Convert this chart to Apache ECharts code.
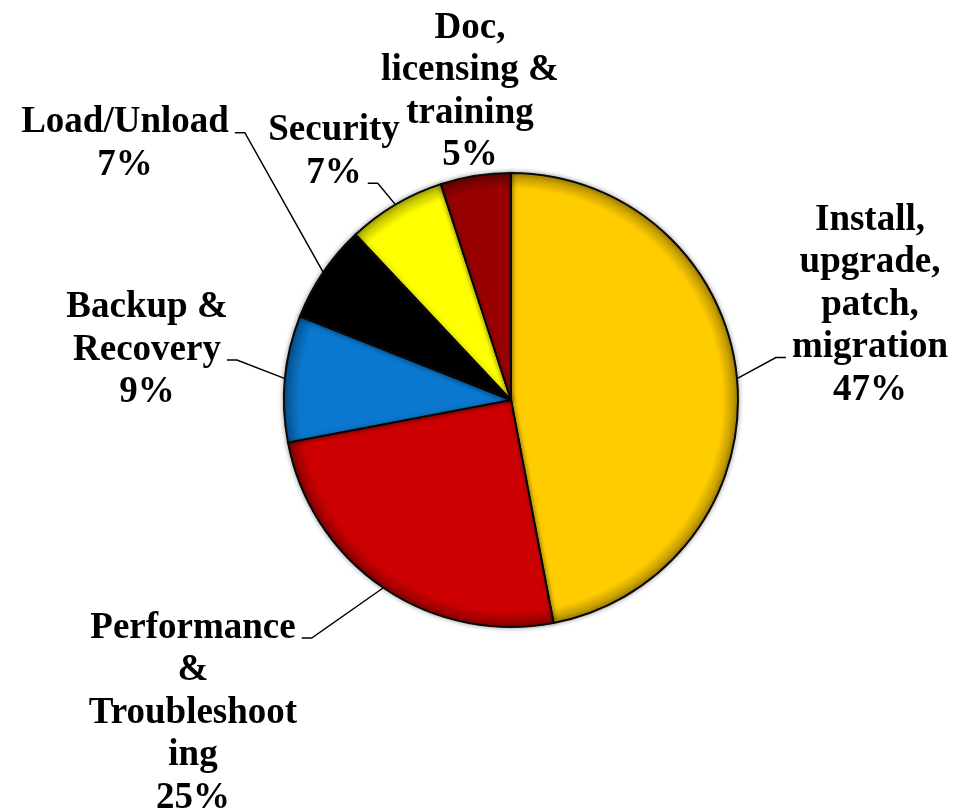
<!DOCTYPE html>
<html><head><meta charset="utf-8">
<script src="https://cdn.jsdelivr.net/npm/echarts@6/dist/echarts.min.js"></script>
<style>html,body{margin:0;padding:0;background:#fff}#chart{width:953px;height:810px}</style>
</head><body><div id="chart"></div>
<script>
// ---- data ----
const categories = [
  'Install,\nupgrade,\npatch,\nmigration',
  'Performance\n&\nTroubleshoot\ning',
  'Backup &\nRecovery',
  'Load/Unload',
  'Security',
  'Doc,\nlicensing &\ntraining'
];
const values = [47, 25, 9, 7, 7, 5];
const colors = ['#FFCC00', '#CC0000', '#0B78CF', '#000000', '#FFFF00', '#990000'];

// ---- layout (label block centres and the text line that each leader line attaches to) ----
const labelCenters = [[870, 305], [193, 713], [147, 350], [125, 144], [334, 152], [470, 92]];
const leaderLine = [3, 0, 1, 0, 1, -1];

const FS = 37, LH = 42.5;
const FONT = 'bold ' + FS + 'px "Liberation Serif"';
const mctx = document.createElement('canvas').getContext('2d');
mctx.font = FONT;

const CX = 511, CY = 400, R = 227;

const chart = echarts.init(document.getElementById('chart'), null, {renderer: 'canvas'});

const data = categories.map((n, i) => ({
  name: n,
  value: values[i],
  itemStyle: {color: colors[i]},
  labelLine: {show: leaderLine[i] >= 0}
}));

const rimShade = {
  type: 'radial', x: CX, y: CY, r: R, global: true,
  colorStops: [
    {offset: 0, color: 'rgba(0,0,0,0)'},
    {offset: 0.93, color: 'rgba(0,0,0,0)'},
    {offset: 1, color: 'rgba(0,0,0,0.32)'}
  ]
};

chart.setOption({
  animation: false,
  backgroundColor: '#ffffff',
  series: [{
    type: 'pie',
    center: [CX, CY],
    radius: R,
    startAngle: 90,
    clockwise: true,
    avoidLabelOverlap: false,
    percentPrecision: 0,
    data: data,
    itemStyle: {
      borderColor: '#151515',
      borderWidth: 2,
      shadowBlur: 5,
      shadowColor: 'rgba(0,0,0,0.35)'
    },
    label: {
      show: true,
      position: 'outside',
      formatter: '{b}\n{d}%',
      color: '#000',
      fontFamily: 'Liberation Serif',
      fontWeight: 'bold',
      fontSize: FS,
      lineHeight: LH,
      align: 'center'
    },
    labelLine: {
      show: true,
      length: 10,
      length2: 10,
      lineStyle: {color: '#000', width: 1.5}
    },
    labelLayout: function (p) {
      const i = p.dataIndex;
      const c = labelCenters[i];
      const res = {x: c[0], y: c[1], align: 'center', verticalAlign: 'middle'};
      const li = leaderLine[i];
      if (li >= 0 && p.labelLinePoints && p.labelLinePoints.length) {
        const lines = String(p.text).split('\n');
        const h = lines.length * LH;
        const edge = p.labelLinePoints[0];
        const lw = mctx.measureText(lines[li]).width;
        const ay = c[1] - h / 2 + LH * (li + 0.5) + 10;
        const right = c[0] > edge[0];
        const tx = right ? c[0] - lw / 2 - 6 : c[0] + lw / 2 + 6;
        const sx = right ? tx - 10 : tx + 10;
        res.labelLinePoints = [edge, [sx, ay], [tx, ay]];
      }
      return res;
    }
  }, {
    type: 'pie',
    center: [CX, CY],
    radius: R,
    startAngle: 90,
    clockwise: true,
    silent: true,
    data: categories.map((n, i) => ({name: n, value: values[i]})),
    itemStyle: {color: rimShade, borderWidth: 1.2, borderColor: 'rgba(0,0,0,0.55)'},
    label: {show: false},
    labelLine: {show: false},
    emphasis: {disabled: true}
  }]
});
</script>
</body></html>
